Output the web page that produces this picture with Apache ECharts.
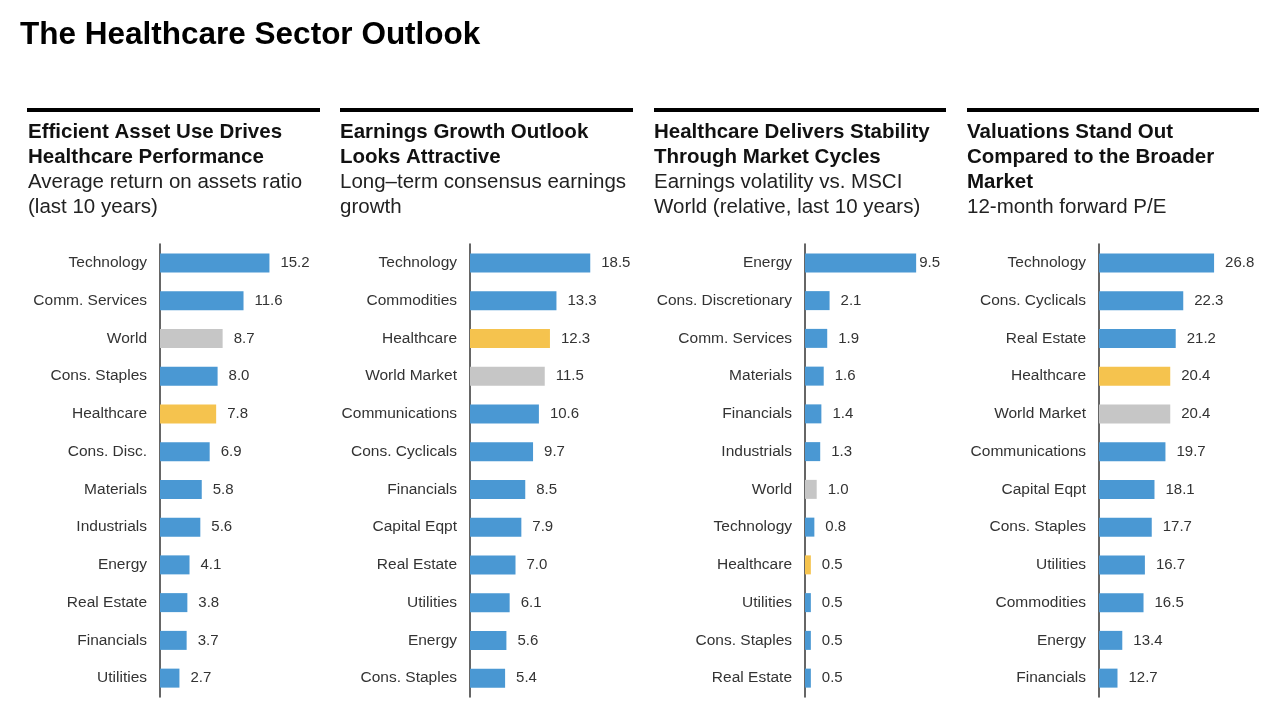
<!DOCTYPE html>
<html><head><meta charset="utf-8">
<script src="https://cdn.jsdelivr.net/npm/echarts@6/dist/echarts.min.js"></script>
<style>html,body{margin:0;padding:0;background:#fff}#c{width:1280px;height:713px}</style>
</head><body><div id="c"></div>
<script>
const mainTitle = 'The Healthcare Sector Outlook';

const p1Categories = ['Technology','Comm. Services','World','Cons. Staples','Healthcare','Cons. Disc.','Materials','Industrials','Energy','Real Estate','Financials','Utilities'];
const p1Values = [15.2,11.6,8.7,8.0,7.8,6.9,5.8,5.6,4.1,3.8,3.7,2.7];
const p1Heading = ['Efficient Asset Use Drives','Healthcare Performance'];
const p1Desc = ['Average return on assets ratio','(last 10 years)'];

const p2Categories = ['Technology','Commodities','Healthcare','World Market','Communications','Cons. Cyclicals','Financials','Capital Eqpt','Real Estate','Utilities','Energy','Cons. Staples'];
const p2Values = [18.5,13.3,12.3,11.5,10.6,9.7,8.5,7.9,7.0,6.1,5.6,5.4];
const p2Heading = ['Earnings Growth Outlook','Looks Attractive'];
const p2Desc = ['Long\u2013term consensus earnings','growth'];

const p3Categories = ['Energy','Cons. Discretionary','Comm. Services','Materials','Financials','Industrials','World','Technology','Healthcare','Utilities','Cons. Staples','Real Estate'];
const p3Values = [9.5,2.1,1.9,1.6,1.4,1.3,1.0,0.8,0.5,0.5,0.5,0.5];
const p3Heading = ['Healthcare Delivers Stability','Through Market Cycles'];
const p3Desc = ['Earnings volatility vs. MSCI','World (relative, last 10 years)'];

const p4Categories = ['Technology','Cons. Cyclicals','Real Estate','Healthcare','World Market','Communications','Capital Eqpt','Cons. Staples','Utilities','Commodities','Energy','Financials'];
const p4Values = [26.8,22.3,21.2,20.4,20.4,19.7,18.1,17.7,16.7,16.5,13.4,12.7];
const p4Heading = ['Valuations Stand Out','Compared to the Broader','Market'];
const p4Desc = ['12-month forward P/E'];

const BLUE = '#4A98D3', GRAY = '#C6C6C6', YELLOW = '#F5C34E';
function colorFor(cat){
  if (cat === 'Healthcare') return YELLOW;
  if (cat === 'World' || cat === 'World Market') return GRAY;
  return BLUE;
}

const panels = [
  {cats:p1Categories, vals:p1Values, head:p1Heading, desc:p1Desc, left:160, width:144, min:0, max:20, tx:28, lx:27, lw:293},
  {cats:p2Categories, vals:p2Values, head:p2Heading, desc:p2Desc, left:470, width:130, min:0, max:20, tx:340, lx:340, lw:293},
  {cats:p3Categories, vals:p3Values, head:p3Heading, desc:p3Desc, left:805, width:117, min:0, max:10, tx:654, lx:654, lw:292},
  {cats:p4Categories, vals:p4Values, head:p4Heading, desc:p4Desc, left:1099, width:137, min:10, max:30, tx:967, lx:967, lw:292}
];

const FONT = 'Liberation Sans, Arial, sans-serif';
const grids = [], xAxes = [], yAxes = [], series = [], graphics = [];

graphics.push({type:'text', x:20, y:35, style:{text:mainTitle, font:'bold 31.5px '+FONT, fill:'#000', textVerticalAlign:'middle'}});

panels.forEach((p,i)=>{
  const scale = p.width/(p.max-p.min);
  grids.push({left:p.left, top:244, width:p.width, height:453, containLabel:false});
  xAxes.push({type:'value', gridIndex:i, min:p.min, max:p.max, show:false, splitLine:{show:false}});
  yAxes.push({type:'category', gridIndex:i, data:p.cats, inverse:true,
    axisLine:{show:true, lineStyle:{color:'#333', width:1.5}}, axisTick:{show:false},
    axisLabel:{color:'#333', fontSize:15.5, fontFamily:FONT, margin:13}});
  series.push({type:'bar', xAxisIndex:i, yAxisIndex:i, barWidth:19,
    data:p.vals.map((v,k)=>{
      const end = p.left + (v-p.min)*scale;
      const dist = (end + 11 + 27 > p.lx + p.lw) ? 3 : 11;
      return {value:v, itemStyle:{color:colorFor(p.cats[k])}, label:{distance:dist}};
    }),
    label:{show:true, position:'right', distance:11, color:'#333', fontSize:15, fontFamily:FONT,
      formatter:(d)=>Number(d.value).toFixed(1)},
    silent:true, animation:false});
  graphics.push({type:'rect', shape:{x:p.lx, y:108, width:p.lw, height:4}, style:{fill:'#000'}});
  let y = 132;
  p.head.forEach(t=>{
    graphics.push({type:'text', x:p.tx, y:y, style:{text:t, font:'bold 20.5px '+FONT, fill:'#111', textVerticalAlign:'middle'}});
    y += 25;
  });
  p.desc.forEach(t=>{
    graphics.push({type:'text', x:p.tx, y:y, style:{text:t, font:'20.5px '+FONT, fill:'#222', textVerticalAlign:'middle'}});
    y += 25;
  });
});

const chart = echarts.init(document.getElementById('c'));
chart.setOption({
  backgroundColor:'#fff', animation:false,
  grid:grids, xAxis:xAxes, yAxis:yAxes, series:series, graphic:graphics
});
</script></body></html>
